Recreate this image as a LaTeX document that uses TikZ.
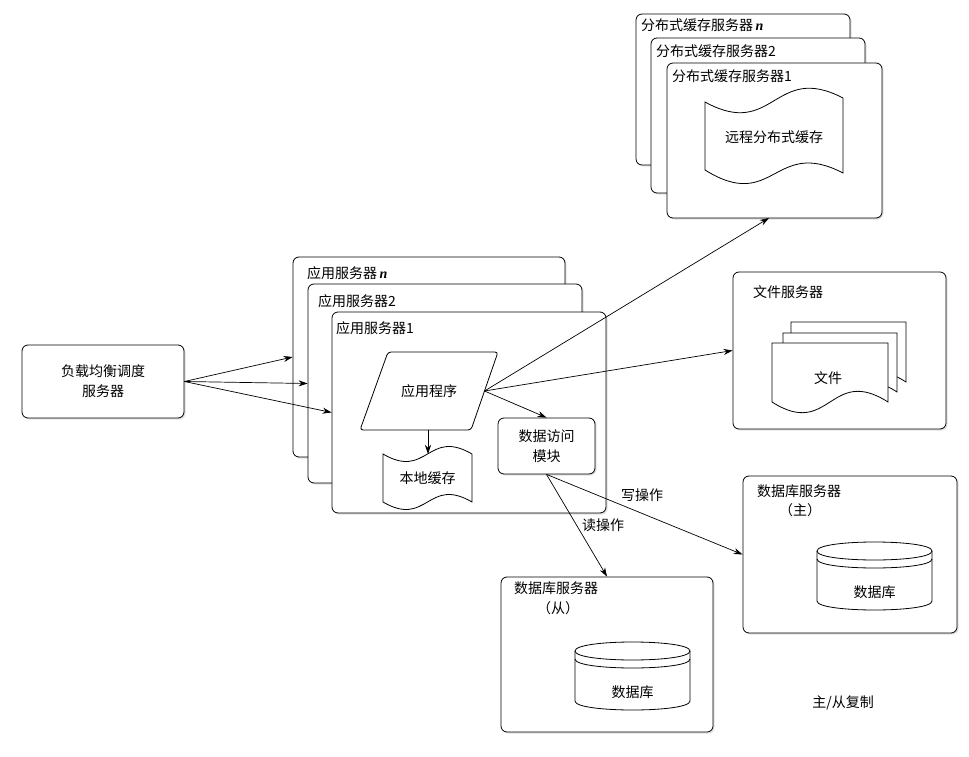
\documentclass[tikz,border=0pt]{standalone}
\usepackage{fontspec}
\setmainfont{Noto Sans CJK SC}
\newfontfamily\serifit{Liberation Serif}
\usetikzlibrary{arrows.meta,shadows}
\newcommand{\ital}{\,{\serifit\bfseries\itshape n}}
\begin{document}
\begin{tikzpicture}[x=1pt,y=-1pt,
  every node/.style={font=\fontsize{14pt}{20pt}\selectfont, inner sep=0pt},
  box/.style={draw, fill=white, rounded corners=6pt, line width=0.8pt,
    drop shadow={opacity=0.25, shadow xshift=1.5pt, shadow yshift=-1.5pt}},
  shapeline/.style={draw, fill=white, line width=0.8pt},
  arr/.style={-{Stealth[length=9pt,width=6pt]}, line width=0.7pt},
  lbl/.style={anchor=west}]
\useasboundingbox (0,0) rectangle (969,757);

% load balancer
\node[box, minimum width=162pt, minimum height=73pt, align=center] (lb) at (103,381.5) {负载均衡调度\\服务器};

% application servers
\node[box, minimum width=272pt, minimum height=200pt] (appN) at (429,357) {};
\node[lbl] (appNt) at (307,273) {应用服务器\ital};
\node[box, minimum width=274pt, minimum height=199pt] (app2) at (445,383.5) {};
\node[lbl] (app2t) at (318,301) {应用服务器2};
\node[box, minimum width=274pt, minimum height=201pt] (app1) at (469,412.5) {};
\node[lbl] (app1t) at (336,328) {应用服务器1};

% application program (parallelogram)
\draw[shapeline, rounded corners=3pt] (388,352) -- (498,352) -- (471,430) -- (360,430) -- cycle;
\node (prog) at (429,391) {应用程序};
\coordinate (progR) at (484.5,391);
\coordinate (progB) at (428,430);

% local cache (tape)
\draw[shapeline] (383,454) .. controls (427.5,480) and (427.5,428) .. (472,454) -- (472,502)
  .. controls (427.5,476) and (427.5,528) .. (383,502) -- cycle;
\node (lc) at (427.5,478) {本地缓存};
\coordinate (lcT) at (428,454);

% data access module
\node[box, minimum width=97pt, minimum height=56pt, align=center] (dam) at (546.5,446) {数据访问\\模块};

% distributed cache servers
\node[box, minimum width=214pt, minimum height=151pt] (cacheN) at (743,89.5) {};
\node[lbl] (cacheNt) at (641,25) {分布式缓存服务器\ital};
\node[box, minimum width=214pt, minimum height=155pt] (cache2) at (758,115.5) {};
\node[lbl] (cache2t) at (656,51) {分布式缓存服务器2};
\node[box, minimum width=215pt, minimum height=155pt] (cache1) at (774.5,140.5) {};
\node[lbl] (cache1t) at (672,76) {分布式缓存服务器1};
\draw[shapeline] (705,102) .. controls (774,140) and (774,62) .. (843,98) -- (843,173)
  .. controls (774,137) and (774,213) .. (705,170) -- cycle;
\node (rc) at (774,137) {远程分布式缓存};
\coordinate (cacheIn) at (769,218);

% file server
\node[box, minimum width=213pt, minimum height=157pt] (fileS) at (839.5,350.5) {};
\node[lbl] (fileSt) at (753,292) {文件服务器};
\draw[shapeline] (791,322) -- (906,322) -- (906,382) .. controls (848,345) and (848,419) .. (791,382) -- cycle;
\draw[shapeline] (783,333) -- (897,333) -- (897,392) .. controls (840,355) and (840,429) .. (783,392) -- cycle;
\draw[shapeline] (772,343) -- (888,343) -- (888,402) .. controls (830,365) and (830,439) .. (772,402) -- cycle;
\node (doc) at (828,378) {文件};

% database master
\node[box, minimum width=214pt, minimum height=157pt] (dbM) at (850,554.5) {};
\node[lbl] (dbMt) at (757,491) {数据库服务器};
\node (dbMt2) at (800,510) {（主）};
\draw[shapeline] (817,551) -- (817,601) .. controls (817,613) and (932,613) .. (932,601) -- (932,551);
\draw[shapeline] (817,551) .. controls (817,539) and (932,539) .. (932,551) .. controls (932,563) and (817,563) .. (817,551) -- cycle;
\draw[line width=0.8pt] (817,559) .. controls (817,571) and (932,571) .. (932,559);
\node (dbMc) at (874.5,592) {数据库};

% database slave
\node[box, minimum width=212pt, minimum height=155pt] (dbS) at (607,654.5) {};
\node[lbl] (dbSt) at (514,588) {数据库服务器};
\node (dbSt2) at (558,608) {（从）};
\draw[shapeline] (575,651) -- (575,701) .. controls (575,713) and (690,713) .. (690,701) -- (690,651);
\draw[shapeline] (575,651) .. controls (575,639) and (690,639) .. (690,651) .. controls (690,663) and (575,663) .. (575,651) -- cycle;
\draw[line width=0.8pt] (575,659) .. controls (575,671) and (690,671) .. (690,659);
\node (dbSc) at (632.5,692) {数据库};

% connectors
\draw[arr] (lb.east) -- (appN.west);
\draw[arr] (lb.east) -- (app2.west);
\draw[arr] (lb.east) -- (app1.west);
\draw[arr] (progB) -- (lcT);
\draw[arr] (progR) -- (dam.north);
\draw[arr] (progR) -- (cacheIn);
\draw[arr] (progR) -- (fileS.west);
\draw[arr] (dam.south) -- (dbS.north);
\draw[arr] (dam.south) -- (dbM.west);

% labels
\node (rd) at (603,525) {读操作};
\node (wr) at (642,495) {写操作};
\node (rep) at (843,703) {主/从复制};
\end{tikzpicture}
\end{document}
